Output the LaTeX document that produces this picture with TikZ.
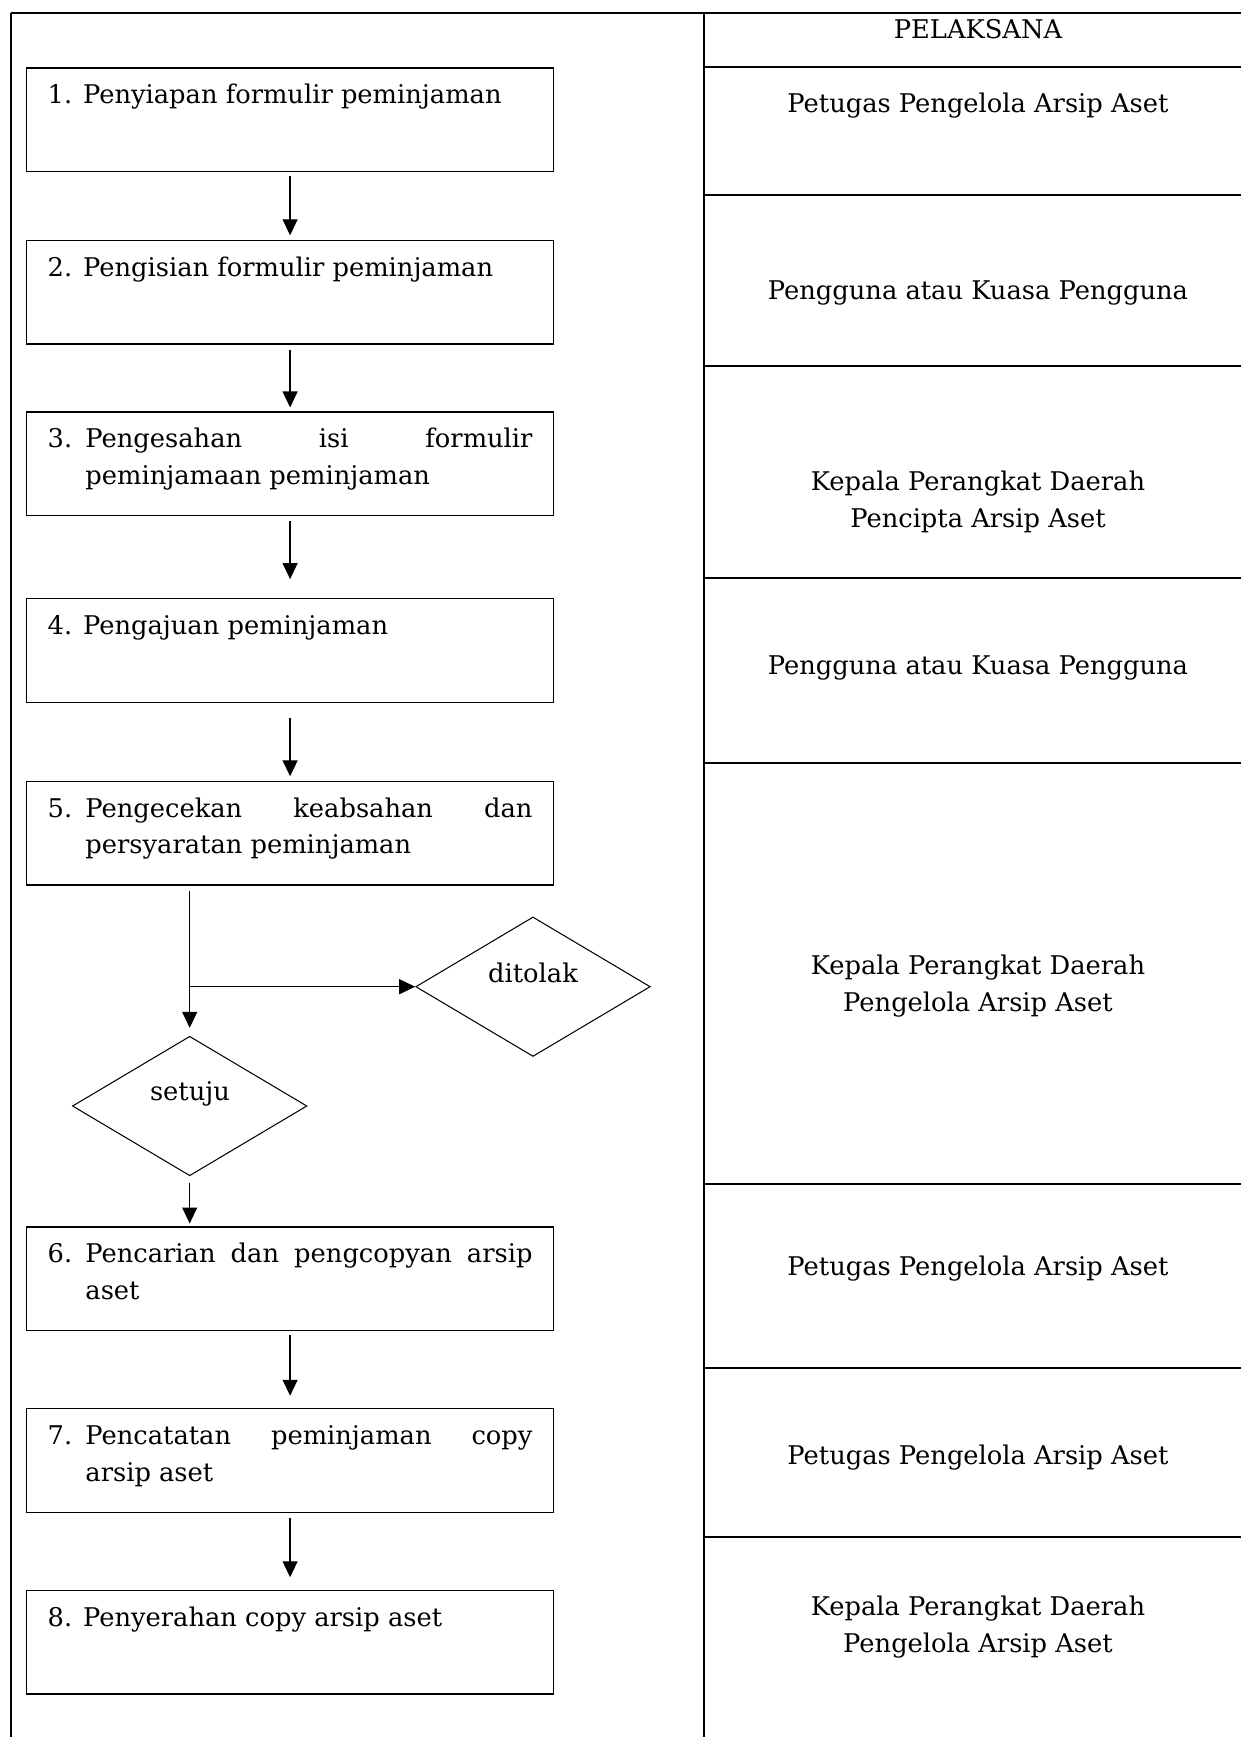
\documentclass[tikz,border=0pt]{standalone}
\usepackage{fontspec}
\setmainfont{DejaVu Serif}
\usetikzlibrary{arrows.meta,shapes.geometric}

% isi kotak langkah: nomor menggantung, teks rata kiri-kanan
\newcommand{\langkah}[2]{\parbox[c][39.9pt][t]{233.6pt}{\strut\hangindent=18.2pt\hangafter=1\makebox[18.2pt][l]{#1}#2}}
% isi kotak langkah satu baris
\newcommand{\langkahsatu}[2]{\parbox[c][39.9pt][t]{233.6pt}{\strut#1 #2}}

\begin{document}
\begin{tikzpicture}[x=0.16933mm,y=-0.16933mm,
  every node/.style={font=\fontsize{12.4}{17.6}\selectfont},
  proses/.style={draw,line width=0.7pt,rectangle,minimum width=253.8pt,minimum height=49.9pt,inner xsep=10.1pt,inner ysep=5pt},
  pilihan/.style={draw,line width=0.5pt,diamond,minimum width=113pt,minimum height=67.2pt,inner sep=0pt},
  panah/.style={-{Triangle[width=7.2pt,length=7.7pt]},line width=0.6pt},
  garis/.style={line width=0.6pt},
  bingkai/.style={line width=1pt}]
\useasboundingbox (0,0) rectangle (1241,1737);

% tabel: bingkai dan kolom pelaksana
\draw[bingkai] (10.7,12.7) -- (1241,12.7);
\draw[bingkai] (10.7,12.7) -- (10.7,1737);
\draw[bingkai] (704,12.7) -- (704,1737);
\draw[bingkai] (704,67.3) -- (1241,67.3);
\draw[bingkai] (704,195) -- (1241,195);
\draw[bingkai] (704,365.7) -- (1241,365.7);
\draw[bingkai] (704,578) -- (1241,578);
\draw[bingkai] (704,763) -- (1241,763);
\draw[bingkai] (704,1184) -- (1241,1184);
\draw[bingkai] (704,1367.7) -- (1241,1367.7);
\draw[bingkai] (704,1536.7) -- (1241,1536.7);

% kolom pelaksana
\node (hdr) at (978,29.3) {PELAKSANA};
\node (pel1) at (978,106) {Petugas Pengelola Arsip Aset};
\node (pel2) at (978,293) {Pengguna atau Kuasa Pengguna};
\node[align=center] (pel3) at (978,502) {Kepala Perangkat Daerah\\Pencipta Arsip Aset};
\node (pel4) at (978,668) {Pengguna atau Kuasa Pengguna};
\node[align=center] (pel5) at (978,986) {Kepala Perangkat Daerah\\Pengelola Arsip Aset};
\node (pel6) at (978,1268.7) {Petugas Pengelola Arsip Aset};
\node (pel7) at (978,1458) {Petugas Pengelola Arsip Aset};
\node[align=center] (pel8) at (978,1627) {Kepala Perangkat Daerah\\Pengelola Arsip Aset};

% langkah-langkah
\node[proses] (b1) at (290.1,119.7) {\langkahsatu{1.}{Penyiapan formulir peminjaman}};
\node[proses] (b2) at (290.1,292.4) {\langkahsatu{2.}{Pengisian formulir peminjaman}};
\node[proses] (b3) at (290.1,463.7) {\langkah{3.}{Pengesahan isi formulir\linebreak peminjamaan peminjaman}};
\node[proses] (b4) at (290.1,650.5) {\langkahsatu{4.}{Pengajuan peminjaman}};
\node[proses] (b5) at (290.1,833) {\langkah{5.}{Pengecekan keabsahan dan\linebreak persyaratan peminjaman}};
\node[proses] (b6) at (290.1,1278.7) {\langkah{6.}{Pencarian dan pengcopyan arsip\linebreak aset}};
\node[proses] (b7) at (290.1,1460.5) {\langkah{7.}{Pencatatan peminjaman copy\linebreak arsip aset}};
\node[proses] (b8) at (290.1,1642) {\langkahsatu{8.}{Penyerahan copy arsip aset}};

% keputusan
\node[pilihan] (tolak) at (533,986.7) {};
\node (ttolak) at (533,973) {ditolak};
\node[pilihan] (setuju) at (189.7,1106) {};
\node (tsetuju) at (190,1094) {setuju};
\coordinate (cab) at (setuju.north |- tolak.west);

% panah
\draw[panah,shorten <=2pt,shorten >=2.2pt] (b1.south) -- (b2.north);
\draw[panah,shorten <=2.4pt,shorten >=1.8pt] (b2.south) -- (b3.north);
\draw[panah,shorten <=2.4pt,shorten >=9.1pt] (b3.south) -- (b4.north);
\draw[panah,shorten <=7.2pt,shorten >=2pt] (b4.south) -- (b5.north);
\draw[garis,shorten <=2.4pt] (b5.south -| setuju.north) -- (cab);
\draw[panah,shorten >=3.8pt] (cab) -- (setuju.north);
\draw[panah] (cab) -- (tolak.west);
\draw[panah,shorten <=3pt,shorten >=1.3pt] (setuju.south) -- (b6.north -| setuju.south);
\draw[panah,shorten <=2pt,shorten >=5.9pt] (b6.south) -- (b7.north);
\draw[panah,shorten <=2.4pt,shorten >=5.9pt] (b7.south) -- (b8.north);
\end{tikzpicture}
\end{document}
